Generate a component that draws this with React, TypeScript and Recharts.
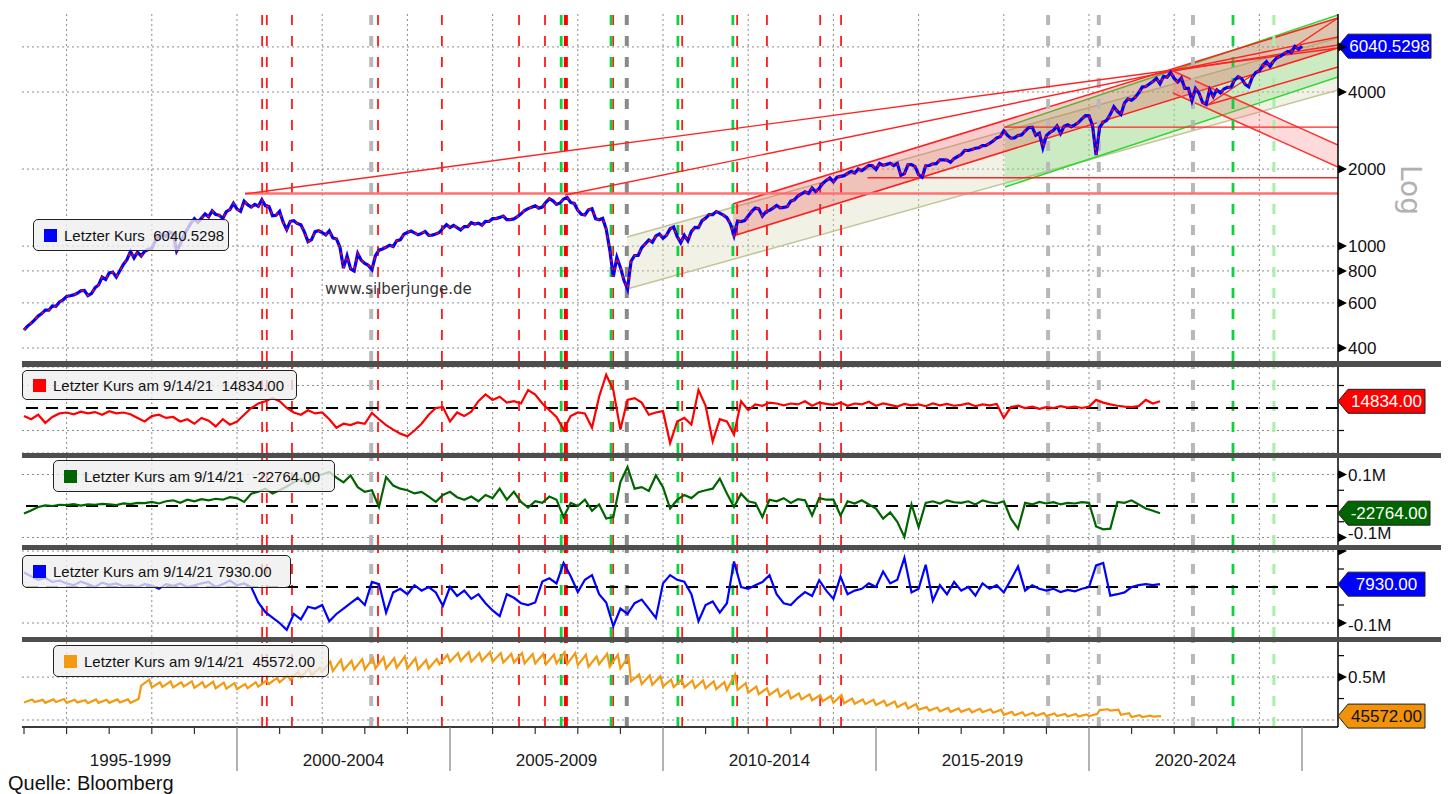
import React from "react";
import {
  ComposedChart,
  Line,
  Area,
  XAxis,
  YAxis,
  CartesianGrid,
  ReferenceLine,
  ReferenceDot,
} from "recharts";

const FONT = "'Liberation Sans', Arial, sans-serif";

// ---------- x domain (years) ----------
const X_MIN = 1994.953;
const X_MAX = 2025.845;

// ---------- main panel: S&P 500 (monthly, from Jan 1995) ----------
const spxMonthly = [
  470, 487, 500, 515, 533, 545, 562, 562, 584, 582, 605, 616,
  636, 640, 645, 654, 669, 671, 640, 652, 687, 705, 757, 741,
  786, 791, 757, 801, 848, 885, 954, 899, 947, 915, 955, 970,
  980, 1049, 1102, 1112, 1091, 1134, 1121, 957, 1017, 1099, 1164, 1229,
  1280, 1238, 1286, 1335, 1302, 1373, 1329, 1320, 1283, 1363, 1389, 1469,
  1394, 1366, 1499, 1452, 1421, 1455, 1431, 1518, 1437, 1429, 1315, 1320,
  1366, 1240, 1160, 1249, 1256, 1224, 1211, 1134, 1041, 1060, 1139, 1148,
  1130, 1107, 1147, 1076, 1067, 990, 820, 916, 815, 800, 936, 880,
  856, 841, 810, 917, 964, 975, 990, 1008, 996, 1051, 1058, 1112,
  1131, 1145, 1126, 1107, 1121, 1141, 1102, 1104, 1115, 1130, 1174, 1212,
  1181, 1204, 1181, 1157, 1192, 1191, 1234, 1220, 1229, 1207, 1249, 1248,
  1280, 1281, 1295, 1311, 1270, 1270, 1277, 1304, 1336, 1378, 1401, 1418,
  1438, 1407, 1421, 1482, 1531, 1503, 1455, 1474, 1527, 1549, 1481, 1468,
  1379, 1331, 1323, 1386, 1400, 1280, 1267, 1283, 1166, 969, 760, 903,
  826, 735, 680, 873, 919, 919, 987, 1021, 1057, 1036, 1096, 1115,
  1074, 1104, 1169, 1187, 1089, 1031, 1102, 1049, 1141, 1183, 1181, 1258,
  1286, 1327, 1326, 1364, 1345, 1321, 1292, 1219, 1100, 1253, 1247, 1258,
  1312, 1366, 1408, 1398, 1310, 1362, 1379, 1407, 1441, 1412, 1416, 1426,
  1498, 1515, 1569, 1598, 1631, 1606, 1686, 1633, 1682, 1757, 1806, 1848,
  1783, 1859, 1872, 1884, 1924, 1960, 1931, 2003, 1972, 2018, 2068, 2059,
  1995, 2105, 2068, 2086, 2107, 2063, 2104, 1890, 1920, 2079, 2080, 2044,
  1900, 1860, 2060, 2065, 2097, 2099, 2174, 2171, 2168, 2126, 2199, 2239,
  2279, 2364, 2363, 2384, 2412, 2423, 2470, 2472, 2519, 2575, 2648, 2674,
  2824, 2714, 2641, 2648, 2705, 2718, 2816, 2902, 2914, 2712, 2760, 2420,
  2704, 2784, 2834, 2946, 2752, 2942, 2980, 2926, 2977, 3038, 3141, 3231,
  3226, 2954, 2270, 2912, 3044, 3100, 3271, 3500, 3363, 3270, 3622, 3756,
  3714, 3811, 3973, 4181, 4204, 4298, 4395, 4523, 4308, 4605, 4567, 4766,
  4516, 4374, 4530, 4132, 4132, 3700, 4130, 3955, 3640, 3580, 4080, 3840,
  4077, 3970, 4109, 4169, 4180, 4450, 4589, 4508, 4288, 4194, 4568, 4770,
  4846, 5096, 5254, 5036, 5278, 5460, 5522, 5648, 5762, 5705, 6032, 5882,
  6040.5298,
];
const spxLast = 6040.5298;
const mainTicks = [400, 600, 800, 1000, 2000, 4000, 6000];
const MAIN_MIN = 355.8;
const MAIN_MAX = 8067;

// trend channels [year, value]
const khakiLower = [[2009.155, 680], [2025.845, 4073]];
const khakiUpper = [[2009.155, 1086], [2025.845, 6500]];
const redLower = [[2011.643, 1096], [2025.845, 5942]];
const redUpper = [[2011.643, 1461], [2025.845, 7782]];
const greenLower = [[2018.028, 1702], [2025.845, 4578]];
const greenUpper = [[2018.028, 2921], [2025.845, 7997]];
const declLower = [[2021.972, 3964], [2025.845, 2037]];
const declUpper = [[2021.972, 4831], [2025.845, 2484]];

// trend lines [year0, value0, year1, value1]
const trendLines = [
  [2000.19, 1600, 2025.845, 5942],
  [2007.7, 1583, 2025.845, 6561],
  [2022.78, 3557, 2025.845, 7782],
  [2022.78, 3557, 2025.845, 5008],
  [2021.97, 4831, 2025.845, 6103],
  [2014.8, 1850, 2025.845, 1850],
  [2018.0, 2915, 2025.845, 2915],
];
const peakLevel = [2000.19, 1605, 2025.845, 1605];

// ---------- event markers (years) ----------
const redEvents = [2000.59, 2000.7, 2001.29, 2003.31, 2004.81, 2006.62, 2007.23, 2008.83, 2010.45, 2011.74, 2012.44, 2013.69, 2014.18];
const redThickEvents = [2007.72];
const greenEvents = [2007.61, 2008.78, 2010.35, 2011.64, 2023.38];
const grayEvents = [2003.15, 2019.04, 2020.23, 2022.44];
const darkGrayEvents = [2009.15];
const lightGreenEvents = [2024.34];

const evenYears = [1996, 1998, 2000, 2002, 2004, 2006, 2008, 2010, 2012, 2014, 2016, 2018, 2020, 2022, 2024];
const yearTicks = [
  1995, 1996, 1997, 1997.5, 1998, 1999, 2000, 2001, 2002, 2002.5, 2003, 2004, 2005, 2006, 2007, 2007.5,
  2008, 2009, 2010, 2011, 2012, 2012.5, 2013, 2014, 2015, 2016, 2017, 2017.5, 2018, 2019, 2020, 2021,
  2022, 2022.5, 2023, 2024, 2025,
];

// ---------- sub panels (thousands, every 2 months from Jan 1995) ----------
const redSeries = [
  -18, -25, -15, -33, -20, -12,
  -10, -14, -8, -12, -9, -15,
  -7, -12, -10, -14, -22, -30,
  -18, -15, -22, -20, -30, -25,
  -35, -22, -28, -41, -25, -37,
  -30, -15, 0, 10, 15, 22,
  15, 0, -10, -15, -5, -12,
  -10, -25, -44, -35, -38, -32,
  -35, -11, -25, -38, -48, -57,
  -63, -50, -35, -15, 0, 2,
  -30, -10, -18, -8, 15, 30,
  18, 25, 12, 15, 10, 40,
  30, 10, -5, -20, -48, -18,
  -10, -12, -44, 25, 74, 40,
  -48, 18, 22, 12, -15, -10,
  -7, -78, -30, -22, -37, 40,
  5, -74, -25, -30, -59, 15,
  -5, 8, 5, 12, 10, 6,
  10, 8, 15, 5, 12, 9,
  7, 12, 5, 10, 8, 14,
  5, 10, 7, 3, 9, 6,
  8, 4, 10, 6, 9, 5,
  7, 10, 4, 8, 6, 9,
  -22, 2, 5, 0, 3, -2,
  2, 0, 4, 1, 3, 0,
  3, 18, 12, 8, 5, 3,
  2, 4, 18, 10, 14.834,
];
const greenSeries = [
  -24, -14, -3, 2, 0, 4,
  3, 6, 1, 5, 4, 7,
  5, 3, 8, 6, 10, 9,
  13, 8, 15, 18, 10, 20,
  15, 22, 18, 23, 20, 28,
  25, 13, 39, 45, 55, 40,
  50, 62, 75, 87, 70, 95,
  100, 108, 90, 75, 97, 60,
  45, 50, -3, 92, 65, 55,
  50, 40, 45, 30, 13, 35,
  45, 28, 20, 30, 15, 35,
  25, 55, 20, 45, 13, -5,
  15, 10, 30, 20, -35, 10,
  0, 20, -15, 5, -40, -35,
  76, 124, 55, 60, 48, 97,
  60, -8, 20, 35, 25, 44,
  50, 55, 87, 40, -3, 39,
  15, 10, -35, 20, 15, 25,
  10, 22, 18, -30, 25, 20,
  20, -30, 15, 8, 18, 5,
  -8, -40, -20, -50, -98, 5,
  -67, 10, 15, 8, 18, 12,
  10, 15, 5, 18, 12, 8,
  15, -40, -72, 10, 5, 13,
  8, 12, 5, 10, 8, 12,
  10, -65, -74, -72, 13, 10,
  18, 5, -8, -15, -22.764,
];
const blueSeries = [
  40, 30, 20, 25, 14, 18,
  10, 5, 15, 8, 0, 12,
  6, 10, 2, 5, 0, 8,
  4, -5, 8, 3, 10, 0,
  5, 10, 14, 0, 8, 18,
  5, 10, 0, -43, -70, -85,
  -100, -119, -75, -90, -55, -60,
  -50, -95, -75, -60, -45, -30,
  -50, 14, 8, -71, -15, -5,
  -20, 5, -10, 0, -15, -52,
  0, -25, -10, -33, -20, -45,
  -65, -81, -20, -30, -45, -50,
  -43, 15, 24, 10, 67, 30,
  -14, 20, 33, -20, -43, -109,
  -60, -75, -45, -35, -60, -86,
  10, 33, 20, 15, -20, -95,
  -50, -40, -71, -45, 71, 0,
  -5, 5, 14, 33, -20, -45,
  -50, -30, -14, -25, 19, -10,
  -33, 29, -20, -10, -5, 10,
  0, 43, 10, 20, 81, -15,
  -5, 62, -38, 5, -20, 14,
  -10, 0, -24, 10, -5, 5,
  -15, 20, 57, -10, 5, -5,
  -10, -5, -14, -8, -12, -5,
  0, 60, 67, -24, -20, -15,
  0, 5, 8, 5, 7.93,
];
// orange: quarterly trough and roll-over peak (thousands)
const orangeBase = [
  205, 210, 200, 210,
  200, 205, 195, 200,
  200, 205, 200, 400,
  380, 385, 380, 390,
  375, 380, 370, 365,
  360, 370, 390, 420,
  440, 470, 500, 520,
  560, 570, 580, 590,
  590, 600, 600, 610,
  600, 590, 600, 650,
  680, 690, 680, 690,
  680, 670, 670, 660,
  660, 650, 660, 650,
  640, 620, 650, 620,
  600, 450, 420, 410,
  390, 385, 380, 375,
  370, 360, 350, 350,
  320, 300, 290, 270,
  250, 240, 230, 220,
  200, 195, 190, 185,
  175, 165, 150, 135,
  120, 110, 100, 95,
  95, 90, 90, 85,
  60, 55, 50, 50,
  45, 45, 40, 40,
  45, 115, 110, 60,
  35, 35, 40,
];
const orangePeak = [
  240, 235, 240, 245,
  235, 230, 240, 235,
  240, 240, 245, 470,
  440, 450, 440, 450,
  440, 445, 435, 430,
  420, 440, 460, 490,
  520, 560, 600, 610,
  680, 700, 690, 710,
  720, 730, 720, 740,
  720, 700, 710, 760,
  780, 790, 780, 790,
  780, 770, 780, 770,
  770, 760, 790, 780,
  760, 740, 770, 760,
  740, 530, 520, 510,
  470, 470, 460, 460,
  450, 440, 530, 430,
  390, 370, 360, 340,
  310, 300, 290, 280,
  290, 250, 240, 235,
  225, 215, 200, 185,
  150, 145, 140, 135,
  130, 130, 125, 120,
  95, 90, 85, 80,
  75, 70, 70, 65,
  70, 125, 120, 80,
  55, 50, 45.572,
];

// ---------- derived tables ----------
const spxData = spxMonthly.map((v, i) => ({ t: 1995 + i / 12, v }));
const bimonthly = (arr: number[]) => arr.map((v, i) => ({ t: 1995 + i / 6, v }));
const redData = bimonthly(redSeries);
const greenData = bimonthly(greenSeries);
const blueData = bimonthly(blueSeries);
const orangeData: { t: number; v: number }[] = [];
orangeBase.forEach((b, i) => {
  const t0 = 1995 + i / 4;
  orangeData.push({ t: t0, v: b });
  orangeData.push({ t: t0 + 0.19, v: orangePeak[i] });
});
const band = (lo: number[][], hi: number[][]) => lo.map((p, i) => ({ t: p[0], band: [p[1], hi[i][1]] }));

// ---------- helpers ----------
const DASH = "10 11";
const eventLines = (prefix: string) => {
  const out: any[] = [];
  const add = (arr: number[], color: string, w: number) =>
    arr.forEach((yr) =>
      out.push(
        <ReferenceLine key={`${prefix}-${color}-${yr}`} x={yr} stroke={color} strokeWidth={w} strokeDasharray={DASH} />
      )
    );
  add(grayEvents, "#b8b8b8", 4);
  add(darkGrayEvents, "#8a8a8a", 4);
  add(lightGreenEvents, "#a8f0a8", 3);
  add(redEvents, "#ff1a1a", 1.8);
  add(redThickEvents, "#ff0000", 4);
  add(greenEvents, "#10d040", 2.8);
  return out;
};

const MainTick = (p: any) => {
  const { x, y, payload } = p;
  const v = payload.value;
  return (
    <g>
      <polygon points={`${x},${y - 4.5} ${x + 9},${y} ${x},${y + 4.5}`} fill="#000" />
      {v !== 6000 && (
        <text x={x + 10} y={y} dy="0.36em" fontSize={17} fontFamily={FONT} fill="#111">
          {v}
        </text>
      )}
    </g>
  );
};

const fmtM = (k: number) => `${k / 1000}M`;
const subTick = (labeled: number[], arrowOnly: number[], shift: number = 0) => (p: any) => {
  const { x, y, payload } = p;
  const v = payload.value;
  if (labeled.includes(v) || arrowOnly.includes(v)) {
    return (
      <g>
        <polygon points={`${x},${y - 4.5} ${x + 9},${y} ${x},${y + 4.5}`} fill="#000" />
        {labeled.includes(v) && (
          <text x={x + 10} y={y + (v < 0 ? shift : 0)} dy="0.36em" fontSize={17} fontFamily={FONT} fill="#111">
            {fmtM(v)}
          </text>
        )}
      </g>
    );
  }
  return <line x1={x} y1={y} x2={x + 6} y2={y} stroke="#000" strokeWidth={1.2} />;
};

const XTick = (p: any) => {
  const { x, y, payload } = p;
  const v = payload.value;
  if (Number.isInteger(v)) {
    const long = v % 5 === 0 && v >= 2000;
    return <line x1={x} y1={y} x2={x} y2={y + (long ? 44 : 7)} stroke={long ? "#808080" : "#333"} strokeWidth={1.2} />;
  }
  return (
    <text x={x} y={y + 39} textAnchor="middle" fontSize={17} fontFamily={FONT} fill="#1a1a1a">
      {`${v - 2.5}-${v + 1.5}`}
    </text>
  );
};

const badge = (text: string, bg: string, fg: string, w: number) => (p: any) => {
  const { cx, cy } = p;
  const h = 24;
  const pts = `${cx},${cy} ${cx + 10},${cy - h / 2} ${cx + w},${cy - h / 2} ${cx + w},${cy + h / 2} ${cx + 10},${cy + h / 2}`;
  return (
    <g>
      <polygon points={pts} fill={bg} stroke="#222" strokeWidth={1} />
      <text x={cx + 10 + (w - 10) / 2} y={cy} dy="0.36em" textAnchor="middle" fontSize={17} fontFamily={FONT} fill={fg}>
        {text}
      </text>
    </g>
  );
};

const gridProps = { stroke: "#8a8a8a", strokeDasharray: "2 3" };
const xAxisHidden = (
  <XAxis dataKey="t" type="number" domain={[X_MIN, X_MAX]} allowDataOverflow hide />
);
const margin = { top: 0, right: 0, bottom: 0, left: 14 };

const Legend = ({ left, top, width, height, color, text, sqLeft = 10 }: any) => (
  <div
    style={{
      position: "absolute",
      left,
      top,
      width,
      height,
      boxSizing: "border-box",
      background: "rgba(238,238,238,0.78)",
      border: "1.5px solid #222",
      borderRadius: 5,
      zIndex: 5,
      display: "flex",
      alignItems: "center",
      fontFamily: FONT,
      fontSize: 15,
      color: "#111",
      whiteSpace: "pre",
    }}
  >
    <div style={{ width: 13, height: 13, background: color, marginLeft: sqLeft, marginRight: 7 }} />
    <span>{text}</span>
  </div>
);

const Separator = ({ top, height }: any) => (
  <div style={{ position: "absolute", left: 14, top, width: 1419, height, background: "#4e4e4e", zIndex: 4 }} />
);

export default function App() {
  return (
    <div style={{ position: "relative", width: 1440, height: 786, fontFamily: FONT, background: "#fff" }}>
      {/* main panel */}
      <div style={{ position: "absolute", left: 0, top: 0 }}>
        <ComposedChart width={1440} height={353} margin={{ top: 6, right: 0, bottom: 0, left: 14 }}>
          {xAxisHidden}
          <YAxis
            orientation="right"
            width={110}
            scale="log"
            domain={[MAIN_MIN, MAIN_MAX]}
            allowDataOverflow
            ticks={mainTicks}
            interval={0}
            tick={MainTick}
            tickLine={false}
            tickSize={0}
            tickMargin={0}
            axisLine={{ stroke: "#000", strokeWidth: 1.5 }}
          />
          <CartesianGrid {...gridProps} verticalValues={evenYears} horizontalValues={mainTicks} />
          {eventLines("m")}
          <Area data={band(khakiLower, khakiUpper)} dataKey="band" type="linear" fill="#d6d6b4" fillOpacity={0.35} stroke="#c4c49a" strokeWidth={1.5} isAnimationActive={false} />
          <Area data={band(greenLower, greenUpper)} dataKey="band" type="linear" fill="#6cdc6c" fillOpacity={0.28} stroke="#2ed82e" strokeWidth={1.5} isAnimationActive={false} />
          <Area data={band(redLower, redUpper)} dataKey="band" type="linear" fill="#e84848" fillOpacity={0.27} stroke="#ff2020" strokeWidth={1.6} isAnimationActive={false} />
          <Area data={band(declLower, declUpper)} dataKey="band" type="linear" fill="#ff7a7a" fillOpacity={0.28} stroke="#ff3030" strokeWidth={1.5} isAnimationActive={false} />
          <ReferenceLine
            segment={[{ x: peakLevel[0], y: peakLevel[1] }, { x: peakLevel[2], y: peakLevel[3] }]}
            stroke="#ff7070"
            strokeWidth={2.5}
          />
          {trendLines.map((s, i) => (
            <ReferenceLine
              key={`tl-${i}`}
              segment={[{ x: s[0], y: s[1] }, { x: s[2], y: s[3] }]}
              stroke="#ff2424"
              strokeWidth={1.4}
            />
          ))}
          <Line data={spxData} dataKey="v" stroke="#0000ff" strokeWidth={3.2} dot={false} isAnimationActive={false} />
          <Line data={spxData} dataKey="v" stroke="#ff0000" strokeWidth={1.5} strokeDasharray="3 5" dot={false} isAnimationActive={false} />
          <ReferenceDot x={X_MAX} y={spxLast} r={0} ifOverflow="visible" shape={badge("6040.5298", "#0000ff", "#fff", 93)} />
        </ComposedChart>
      </div>

      {/* red panel */}
      <div style={{ position: "absolute", left: 0, top: 359 }}>
        <ComposedChart width={1440} height={86} margin={margin}>
          {xAxisHidden}
          <YAxis orientation="right" width={110} domain={[-100, 91.1]} allowDataOverflow ticks={[-50, 50]} interval={0}
            tick={subTick([], [])} tickLine={false} tickSize={0} tickMargin={0} axisLine={{ stroke: "#000", strokeWidth: 1.5 }} />
          <CartesianGrid {...gridProps} verticalValues={evenYears} horizontalValues={[]} />
          {eventLines("r")}
          <ReferenceLine y={0} stroke="#000" strokeWidth={2.2} strokeDasharray="12 8" />
          <Line data={redData} dataKey="v" stroke="#ff0000" strokeWidth={2.2} dot={false} isAnimationActive={false} />
          <ReferenceDot x={X_MAX} y={14.834} r={0} ifOverflow="visible" shape={badge("14834.00", "#ff0000", "#fff", 87)} />
        </ComposedChart>
      </div>

      {/* green panel */}
      <div style={{ position: "absolute", left: 0, top: 450 }}>
        <ComposedChart width={1440} height={87} margin={margin}>
          {xAxisHidden}
          <YAxis orientation="right" width={110} domain={[-123.8, 152.4]} allowDataOverflow ticks={[-100, -50, 50, 100]} interval={0}
            tick={subTick([-100, 100], [], -5)} tickLine={false} tickSize={0} tickMargin={0} axisLine={{ stroke: "#000", strokeWidth: 1.5 }} />
          <CartesianGrid {...gridProps} verticalValues={evenYears} horizontalValues={[-100, 100]} />
          {eventLines("g")}
          <ReferenceLine y={0} stroke="#000" strokeWidth={2.2} strokeDasharray="12 8" />
          <Line data={greenData} dataKey="v" stroke="#006400" strokeWidth={2.2} dot={false} isAnimationActive={false} />
          <ReferenceDot x={X_MAX} y={-22.764} r={0} ifOverflow="visible" shape={badge("-22764.00", "#006400", "#fff", 92)} />
        </ComposedChart>
      </div>

      {/* blue panel */}
      <div style={{ position: "absolute", left: 0, top: 542 }}>
        <ComposedChart width={1440} height={87} margin={margin}>
          {xAxisHidden}
          <YAxis orientation="right" width={110} domain={[-138.9, 102.8]} allowDataOverflow ticks={[-100, -50, 50, 100]} interval={0}
            tick={subTick([-100], [100], 2)} tickLine={false} tickSize={0} tickMargin={0} axisLine={{ stroke: "#000", strokeWidth: 1.5 }} />
          <CartesianGrid {...gridProps} verticalValues={evenYears} horizontalValues={[-100, 100]} />
          {eventLines("b")}
          <ReferenceLine y={0} stroke="#000" strokeWidth={2.2} strokeDasharray="12 8" />
          <Line data={blueData} dataKey="v" stroke="#0000ff" strokeWidth={2.2} dot={false} isAnimationActive={false} />
          <ReferenceDot x={X_MAX} y={7.93} r={0} ifOverflow="visible" shape={badge("7930.00", "#0000ff", "#fff", 87)} />
        </ComposedChart>
      </div>

      {/* orange panel + time axis */}
      <div style={{ position: "absolute", left: 0, top: 634 }}>
        <ComposedChart width={1440} height={135} margin={margin}>
          <XAxis
            dataKey="t"
            type="number"
            domain={[X_MIN, X_MAX]}
            allowDataOverflow
            ticks={yearTicks}
            interval={0}
            tick={XTick}
            tickLine={false}
            tickSize={0}
            tickMargin={0}
            height={50}
            axisLine={{ stroke: "#3a3a3a", strokeWidth: 2 }}
          />
          <YAxis orientation="right" width={110} domain={[-81.6, 909]} allowDataOverflow ticks={[250, 500, 750]} interval={0}
            tick={subTick([500], [])} tickLine={false} tickSize={0} tickMargin={0} axisLine={{ stroke: "#000", strokeWidth: 1.5 }} />
          <CartesianGrid {...gridProps} verticalValues={evenYears} horizontalValues={[0, 500]} />
          {eventLines("o")}
          <Line data={orangeData} dataKey="v" stroke="#f39a12" strokeWidth={2.2} dot={false} isAnimationActive={false} />
          <ReferenceDot x={X_MAX} y={45.572} r={0} ifOverflow="visible" shape={badge("45572.00", "#f0920a", "#111", 87)} />
        </ComposedChart>
      </div>

      {/* panel separators */}
      <Separator top={353} height={6} />
      <Separator top={445} height={5} />
      <Separator top={537} height={5} />
      <Separator top={629} height={5} />

      {/* legends */}
      <Legend left={25} top={211} width={196} height={32} color="#0000ff" text={"Letzter Kurs  6040.5298"} />
      <Legend left={14} top={362} width={275} height={30} color="#ff0000" text={"Letzter Kurs am 9/14/21  14834.00"} />
      <Legend left={45} top={452} width={282} height={32} color="#006400" text={"Letzter Kurs am 9/14/21  -22764.00"} />
      <Legend left={14} top={547} width={269} height={33} color="#0000ff" text={"Letzter Kurs am 9/14/21 7930.00"} />
      <Legend left={45} top={637} width={276} height={32} color="#f39a12" text={"Letzter Kurs am 9/14/21  45572.00"} />

      {/* watermark, axis caption, source */}
      <div style={{ position: "absolute", left: 317, top: 272, fontFamily: "'DejaVu Sans', Verdana, sans-serif", fontSize: 15, color: "#333", zIndex: 3 }}>
        www.silberjunge.de
      </div>
      <div
        style={{
          position: "absolute",
          left: 1372,
          top: 165,
          width: 60,
          height: 34,
          lineHeight: "34px",
          textAlign: "center",
          transform: "rotate(90deg)",
          fontFamily: "'DejaVu Sans', sans-serif",
          fontSize: 28,
          color: "#b0b0b0",
        }}
      >
        Log
      </div>
      <div style={{ position: "absolute", left: 0, top: 764, fontFamily: FONT, fontSize: 20, lineHeight: "22px", color: "#111" }}>
        Quelle: Bloomberg
      </div>
    </div>
  );
}
